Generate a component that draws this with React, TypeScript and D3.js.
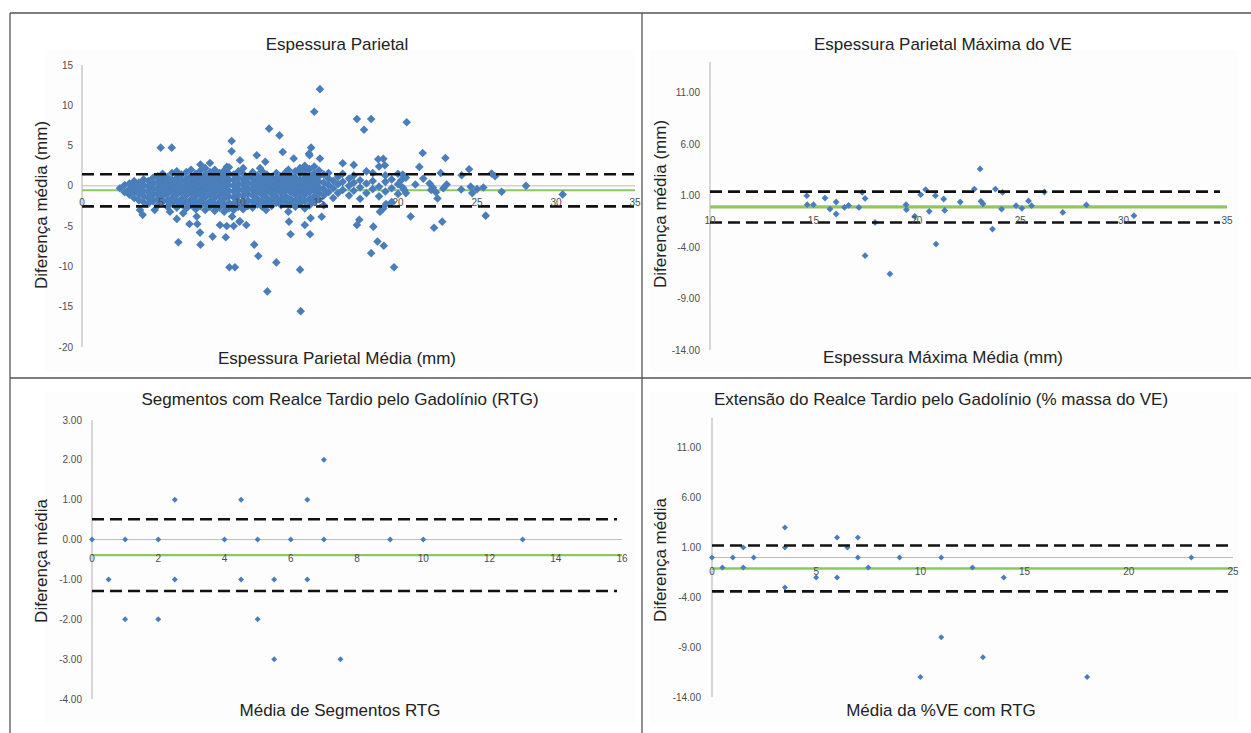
import React from 'react';
import * as d3 from 'd3';

// ---- Espessura Parietal (Bland-Altman) ----
// dense band: [x, list of y] typed by column
const parietalColumns: [number, number[]][] = [
  [2.4, [-0.3]],
  [2.7, [-0.8, 0.1]],
  [3.0, [-1.1, -0.4, 0.3]],
  [3.3, [-1.5, -0.7, 0.0, 0.6]],
  [3.6, [-1.8, -1.0, -0.3, 0.4]],
  [3.9, [-2.0, -1.3, -0.6, 0.1, 0.8]],
  [4.2, [-2.2, -1.5, -0.8, -0.1, 0.6]],
  [4.5, [-1.9, -1.1, -0.4, 0.3, 1.0]],
  [4.8, [-2.4, -1.6, -0.9, -0.2, 0.5, 1.2]],
  [5.1, [-2.0, -1.3, -0.6, 0.1, 0.8, 1.5]],
  [5.4, [-2.6, -1.8, -1.0, -0.3, 0.4, 1.1]],
  [5.7, [-2.2, -1.5, -0.7, 0.0, 0.7, 1.6]],
  [6.0, [-2.7, -1.9, -1.1, -0.4, 0.3, 1.0, 1.8]],
  [6.3, [-2.3, -1.6, -0.8, -0.1, 0.6, 1.4]],
  [6.6, [-2.8, -2.0, -1.2, -0.5, 0.2, 0.9, 1.7]],
  [6.9, [-2.4, -1.7, -0.9, -0.2, 0.5, 1.2, 2.0]],
  [7.2, [-2.9, -2.1, -1.3, -0.6, 0.1, 0.8, 1.5]],
  [7.5, [-2.5, -1.8, -1.0, -0.3, 0.4, 1.1, 1.9]],
  [7.8, [-3.0, -2.2, -1.4, -0.7, 0.0, 0.7, 1.4, 2.2]],
  [8.1, [-2.6, -1.9, -1.1, -0.4, 0.3, 1.0, 1.7]],
  [8.4, [-3.1, -2.3, -1.5, -0.8, -0.1, 0.6, 1.3, 2.0]],
  [8.7, [-2.7, -2.0, -1.2, -0.5, 0.2, 0.9, 1.6]],
  [9.0, [-3.2, -2.4, -1.6, -0.9, -0.2, 0.5, 1.2, 1.9]],
  [9.3, [-2.8, -2.1, -1.3, -0.6, 0.1, 0.8, 1.5, 2.3]],
  [9.6, [-3.0, -2.2, -1.4, -0.7, 0.0, 0.7, 1.4]],
  [9.9, [-2.6, -1.9, -1.1, -0.4, 0.3, 1.0, 1.8]],
  [10.2, [-2.9, -2.1, -1.3, -0.6, 0.1, 0.8, 1.5, 2.2]],
  [10.5, [-2.5, -1.8, -1.0, -0.3, 0.4, 1.1]],
  [10.8, [-2.7, -2.0, -1.2, -0.5, 0.2, 0.9, 1.7]],
  [11.1, [-2.3, -1.6, -0.8, -0.1, 0.6, 1.3]],
  [11.4, [-2.6, -1.9, -1.1, -0.4, 0.3, 1.0, 1.8]],
  [11.7, [-2.2, -1.5, -0.7, 0.0, 0.7, 1.4]],
  [12.0, [-2.5, -1.8, -1.0, -0.3, 0.4, 1.1]],
  [12.3, [-2.1, -1.4, -0.6, 0.1, 0.8, 1.6]],
  [12.6, [-2.4, -1.7, -0.9, -0.2, 0.5, 1.2]],
  [12.9, [-2.0, -1.3, -0.5, 0.2, 0.9, 1.7]],
  [13.2, [-2.3, -1.6, -0.8, -0.1, 0.6, 1.3]],
  [13.5, [-2.6, -1.9, -1.1, -0.4, 0.3, 1.0, 1.8]],
  [13.8, [-2.2, -1.5, -0.7, 0.0, 0.7, 1.5, 2.2]],
  [14.1, [-2.8, -1.9, -1.1, -0.4, 0.3, 1.0, 1.8, 2.5]],
  [14.4, [-2.4, -1.6, -0.8, -0.1, 0.6, 1.3, 2.1]],
  [14.7, [-2.0, -1.3, -0.5, 0.2, 0.9, 1.6, 2.4]],
  [15.0, [-1.7, -0.9, -0.2, 0.5, 1.2, 1.9]],
  [15.3, [-2.4, -1.2, -0.4, 0.4, 1.4]],
  [15.6, [-0.8, 0.1, 0.9, 1.6]],
  [15.9, [-1.5, -0.3, 0.6]],
  [16.2, [-0.9, 0.2, 1.1]],
  [16.5, [-0.5, 0.5, 1.5]],
  [16.9, [-1.2, 0.0, 0.9]],
  [17.2, [-0.6, 0.4, 1.3]],
  [17.6, [-1.6, -0.2, 0.7]],
  [18.0, [-0.9, 0.3, 1.8]],
  [18.4, [-0.4, 0.6, 1.6]],
  [18.8, [-1.3, -0.1, 2.4]],
  [19.2, [-0.7, 0.5, 1.3]],
  [19.6, [-2.0, -0.3, 0.8]],
  [20.0, [-1.0, 0.2, 1.5]],
];

const parietalScatter: [number, number][] = [
  [15.06, 12.0], [14.7, 9.2], [11.84, 7.1], [12.5, 6.26], [17.4, 8.3], [17.85, 6.96], [18.3, 8.3], [20.55, 7.9],
  [12.7, 4.2], [14.5, 4.74], [14.37, 4.0], [15.06, 3.4], [11.06, 3.8], [11.6, 3.0], [13.4, 3.4], [16.5, 2.8],
  [17.2, 2.6], [18.75, 3.3], [19.07, 3.35], [19.17, 2.55], [11.27, 2.2], [13.06, 2.0], [14.4, 3.8],
  [4.98, 4.74], [5.68, 4.74], [9.47, 5.56], [9.47, 4.28], [7.5, 2.64], [8.1, 2.84], [9.16, 2.35], [10.0, 3.17],
  [21.56, 4.07], [23.0, 3.46], [21.35, 2.35], [24.5, 2.06], [22.7, 1.6], [24.03, 1.32], [25.93, 1.53], [26.14, 1.2],
  [20.3, 1.4], [20.5, 1.0], [20.2, 0.7], [21.6, 0.9], [21.1, 0.17], [23.08, 0.17], [22.0, 0.3], [22.2, -0.2],
  [22.4, -0.8], [22.1, -0.5], [22.5, -1.56], [22.87, -0.3], [24.0, -0.45], [24.6, -0.1], [25.0, -0.4], [25.4, -0.2],
  [24.7, -0.9], [26.56, -0.74], [28.1, 0.0], [30.42, -1.06], [20.4, -0.5], [20.5, -0.9], [20.3, -0.2],
  [10.4, -4.85], [10.0, -4.4], [10.9, -7.3], [11.16, -8.7], [12.3, -9.5], [11.73, -13.1], [13.8, -10.4], [13.84, -15.55],
  [13.2, -6.0], [14.43, -6.0], [14.1, -4.85], [14.47, -4.0], [15.17, -3.83], [13.1, -4.44], [13.06, -3.2], [11.65, -3.0],
  [17.4, -4.85], [17.55, -4.2], [18.44, -5.06], [18.7, -6.9], [19.1, -7.44], [18.3, -8.35], [19.75, -10.1],
  [18.86, -3.2], [19.07, -2.8], [19.24, -2.26], [20.8, -3.8], [25.55, -3.7], [22.28, -5.2], [22.8, -4.44],
  [6.0, -4.1], [6.1, -7.0], [6.8, -4.73], [7.47, -5.8], [7.5, -7.3], [7.3, -4.73], [8.27, -6.3], [9.1, -6.37],
  [9.33, -10.1], [9.68, -10.1], [8.73, -4.85], [9.16, -4.98], [9.6, -4.98], [9.96, -4.44], [3.84, -3.6],
  [3.67, -3.0], [4.6, -3.0], [5.57, -3.2], [6.4, -3.4], [7.26, -3.8], [9.5, -3.8],
];
const parietalXTicks = [0, 5, 10, 15, 20, 25, 30, 35];
const parietalYTicks = [-20, -15, -10, -5, 0, 5, 10, 15];
const parietalLimits = [-2.55, -0.55, 1.44]; // lower, mean, upper

// ---- Espessura Parietal Máxima do VE ----
const maxWallPoints: [number, number][] = [
  [14.68, 1.0], [14.7, 0.13], [15.0, 0.13], [15.56, 0.77], [15.8, -0.3], [16.1, 0.39], [16.1, -0.78], [16.5, -0.13],
  [16.7, 0.06], [17.2, -0.14], [17.36, 1.32], [17.5, 0.74], [17.98, -1.6], [17.5, -4.83], [18.7, -6.6], [19.48, 0.13],
  [19.5, -0.36], [19.9, -1.0], [20.19, 1.1], [20.43, 1.59], [20.6, -0.52], [20.9, 1.0], [20.93, -3.7], [21.3, 0.68],
  [21.35, -0.43], [22.1, 0.39], [22.78, 1.65], [23.06, 3.6], [23.1, 0.45], [23.2, 0.22], [23.66, -2.24], [23.8, 1.65],
  [24.15, 1.32], [24.1, -0.3], [24.8, 0.03], [25.08, -0.23], [25.4, 0.49], [25.55, 0.03], [26.17, 1.36], [27.06, -0.62],
  [28.2, 0.1], [30.5, -0.94],
];
const maxWallXTicks = [10, 15, 20, 25, 30, 35];
const maxWallYTicks = [-14, -9, -4, 1, 6, 11];
const maxWallLimits = [-1.6, -0.1, 1.4];

// ---- Segmentos com RTG ----
const segmentPoints: [number, number][] = [
  [0, 0], [0.5, -1], [1, 0], [1, -2], [2, 0], [2, -2], [2.5, 1], [2.5, -1], [4, 0], [4.5, 1], [4.5, -1], [5, 0],
  [5, -2], [5.5, -1], [5.5, -3], [6, 0], [6.5, 1], [6.5, -1], [7, 2], [7, 0], [7.5, -3], [9, 0], [10, 0], [13, 0],
];
const segmentXTicks = [0, 2, 4, 6, 8, 10, 12, 14, 16];
const segmentYTicks = [-4, -3, -2, -1, 0, 1, 2, 3];
const segmentLimits = [-1.29, -0.39, 0.51];

// ---- Extensão do RTG (% massa do VE) ----
const extentPoints: [number, number][] = [
  [0, 0], [0.5, -1], [1, 0], [1.5, 1], [1.5, -1], [2, 0], [3.5, 3], [3.5, 1], [3.5, -3], [5, -2], [6, -2], [6, 2],
  [6.5, 1], [7, 2], [7, 0], [7.5, -1], [9, 0], [10, -12], [11, 0], [11, -8], [12.5, -1], [14, -2], [13, -10],
  [18, -12], [23, 0],
];
const extentXTicks = [0, 5, 10, 15, 20, 25];
const extentYTicks = [-14, -9, -4, 1, 6, 11];
const extentLimits = [-3.4, -1.1, 1.2];

const BLUE = '#4a7ebb';
const GREEN = '#8ec760';
const AXIS = '#bdbdbd';
const FONT = '"Liberation Sans", Arial, sans-serif';

const diamond = (r: number) => `M0,${-r}L${r},0L0,${r}L${-r},0Z`;

type PanelProps = {
  x: d3.ScaleLinear<number, number>;
  y: d3.ScaleLinear<number, number>;
  points: [number, number][];
  limits: number[];
  xTicks: number[];
  yTicks: number[];
  fmt: (v: number) => string;
  labelRight: number;
  xLabelY: number;
  r: number;
  greenWidth: number;
  dashEnd: number;
  title: string;
  titleX: number;
  titleY: number;
  xTitle: string;
  xTitleY: number;
  yTitle: string;
  yTitleX: number;
  yTitleY: number;
  bg: [number, number, number, number];
};

function Panel(p: PanelProps) {
  const [x0, x1] = p.x.range();
  const [yb, yt] = p.y.range();
  const [lower, mean, upper] = p.limits;
  return (
    <g fontFamily={FONT}>
      <rect x={p.bg[0]} y={p.bg[1]} width={p.bg[2]} height={p.bg[3]} fill="#fdfdfd" />
      <line x1={x0} x2={x0} y1={yt} y2={yb} stroke={AXIS} strokeWidth={1.2} />
      <line x1={x0} x2={x1} y1={p.y(0)} y2={p.y(0)} stroke={AXIS} strokeWidth={1} />
      <line x1={x0} x2={x1} y1={p.y(mean)} y2={p.y(mean)} stroke={GREEN} strokeWidth={p.greenWidth} />
      {p.points.map((d, i) => (
        <path key={i} d={diamond(p.r)} transform={`translate(${p.x(d[0])},${p.y(d[1])})`} fill={BLUE} />
      ))}
      {[upper, lower].map((v, i) => (
        <line key={i} x1={x0} x2={p.dashEnd} y1={p.y(v)} y2={p.y(v)} stroke="#111" strokeWidth={2.6} strokeDasharray="12 6" />
      ))}
      {p.yTicks.map((t) => (
        <text key={t} x={p.labelRight} y={p.y(t)} dy="0.35em" textAnchor="end" fontSize={10} fill="#4d4d4d">
          {p.fmt(t)}
        </text>
      ))}
      {p.xTicks.map((t) => (
        <text key={t} x={p.x(t)} y={p.xLabelY} textAnchor="middle" fontSize={10} fill="#4d4d4d">
          {t}
        </text>
      ))}
      <text x={p.titleX} y={p.titleY} textAnchor="middle" fontSize={17} fill="#222">{p.title}</text>
      <text x={p.titleX} y={p.xTitleY} textAnchor="middle" fontSize={17} fill="#222">{p.xTitle}</text>
      <text transform={`translate(${p.yTitleX},${p.yTitleY}) rotate(-90)`} textAnchor="middle" fontSize={17} fill="#222">
        {p.yTitle}
      </text>
    </g>
  );
}

const fixed2 = (v: number) => v.toFixed(2);
const plain = (v: number) => String(v);

export default function App() {
  const parietalPoints: [number, number][] = [
    ...parietalColumns.flatMap(([cx, ys]) => ys.map((v) => [cx, v] as [number, number])),
    ...parietalScatter,
  ];

  const p1x = d3.scaleLinear().domain([0, 35]).range([82, 635]);
  const p1y = d3.scaleLinear().domain([-20, 15]).range([347, 65]);
  const p2x = d3.scaleLinear().domain([10, 35]).range([710, 1227]);
  const p2y = d3.scaleLinear().domain([-14, 14]).range([350, 62]);
  const p3x = d3.scaleLinear().domain([0, 16]).range([92, 622]);
  const p3y = d3.scaleLinear().domain([-4, 3]).range([699, 420]);
  const p4x = d3.scaleLinear().domain([0, 25]).range([712, 1233]);
  const p4y = d3.scaleLinear().domain([-14, 14]).range([697, 418]);

  return (
    <div style={{ position: 'absolute', left: 0, top: 0 }}>
      <svg width={1251} height={733} style={{ display: 'block', background: '#fff' }}>
        <Panel
          x={p1x} y={p1y} points={parietalPoints} limits={parietalLimits}
          xTicks={parietalXTicks} yTicks={parietalYTicks} fmt={plain}
          labelRight={73} xLabelY={206} r={4.3} greenWidth={2} dashEnd={635}
          title="Espessura Parietal" titleX={337} titleY={50}
          xTitle="Espessura Parietal Média (mm)" xTitleY={364}
          yTitle="Diferença média (mm)" yTitleX={47} yTitleY={205}
          bg={[45, 50, 590, 322]}
        />
        <Panel
          x={p2x} y={p2y} points={maxWallPoints} limits={maxWallLimits}
          xTicks={maxWallXTicks} yTicks={maxWallYTicks} fmt={fixed2}
          labelRight={700} xLabelY={224} r={3.4} greenWidth={3} dashEnd={1220}
          title="Espessura Parietal Máxima do VE" titleX={943} titleY={50}
          xTitle="Espessura Máxima Média (mm)" xTitleY={363}
          yTitle="Diferença média (mm)" yTitleX={666} yTitleY={204}
          bg={[650, 50, 589, 322]}
        />
        <Panel
          x={p3x} y={p3y} points={segmentPoints} limits={segmentLimits}
          xTicks={segmentXTicks} yTicks={segmentYTicks} fmt={fixed2}
          labelRight={82} xLabelY={562} r={3} greenWidth={2.2} dashEnd={617}
          title="Segmentos com Realce Tardio pelo Gadolínio (RTG)" titleX={340} titleY={405}
          xTitle="Média de Segmentos RTG" xTitleY={716}
          yTitle="Diferença média" yTitleX={47} yTitleY={561}
          bg={[45, 392, 590, 333]}
        />
        <Panel
          x={p4x} y={p4y} points={extentPoints} limits={extentLimits}
          xTicks={extentXTicks} yTicks={extentYTicks} fmt={fixed2}
          labelRight={701} xLabelY={575} r={3} greenWidth={2.6} dashEnd={1232}
          title="Extensão do Realce Tardio pelo Gadolínio (% massa do VE)" titleX={941} titleY={405}
          xTitle="Média da %VE com RTG" xTitleY={716}
          yTitle="Diferença média" yTitleX={666} yTitleY={560}
          bg={[650, 392, 589, 333]}
        />
        {/* table grid */}
        <g stroke="#555" strokeWidth={1.3}>
          <line x1={10} x2={1251} y1={13} y2={13} />
          <line x1={10} x2={1251} y1={378} y2={378} />
          <line x1={10} x2={10} y1={13} y2={733} />
          <line x1={642} x2={642} y1={13} y2={733} />
        </g>
      </svg>
    </div>
  );
}
